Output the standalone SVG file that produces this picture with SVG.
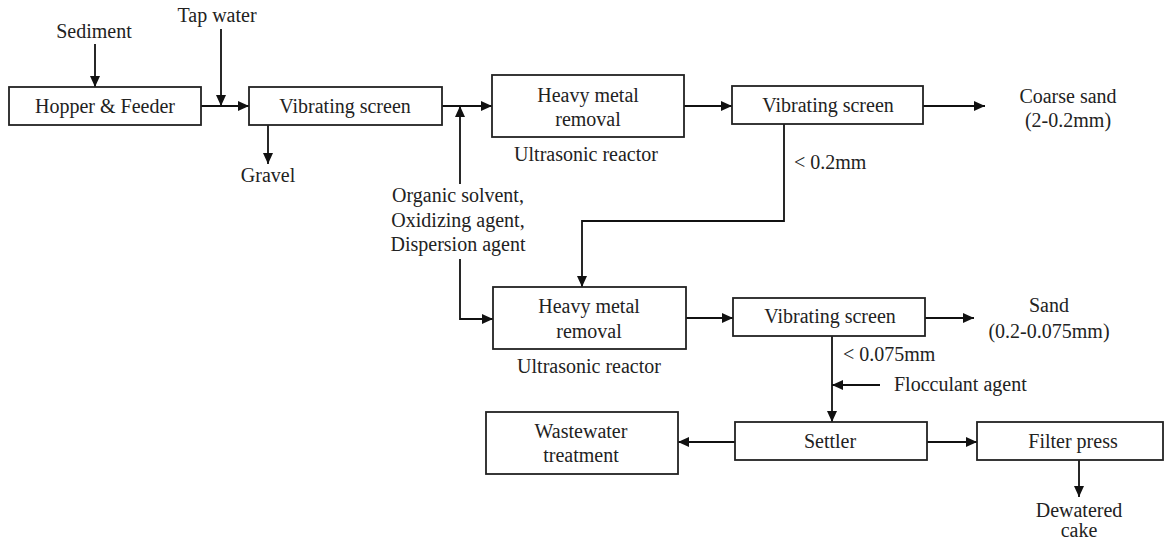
<svg xmlns="http://www.w3.org/2000/svg" width="1165" height="539" viewBox="0 0 1165 539">
<defs>
<marker id="ah" markerUnits="userSpaceOnUse" markerWidth="12" markerHeight="12" refX="11" refY="6" orient="auto">
<path d="M0,1 L11,6 L0,11 z" fill="#111"/>
</marker>
<style>
.box{fill:#fff;stroke:#222;stroke-width:1.8}
text{font-family:'Liberation Serif','Tinos','Times New Roman','DejaVu Serif',serif;font-size:20px;fill:#222}
.t{text-anchor:middle}
.ts{text-anchor:start}
.ca{fill:none;stroke:#111;stroke-width:1.8;marker-end:url(#ah)}
</style>
</defs>
<rect width="1165" height="539" fill="#fff"/>
<g id="connectors">
<path class="ca" d="M95,44 V87"/>
<path class="ca" d="M221,29 V106"/>
<path class="ca" d="M201,106 H249"/>
<path class="ca" d="M268,125 V164"/>
<path class="ca" d="M442,106 H492"/>
<path class="ca" d="M460,184 V106"/>
<path class="ca" d="M460,259 V319 H493"/>
<path class="ca" d="M684,106 H732"/>
<path class="ca" d="M923,106 H985"/>
<path class="ca" d="M784,123 V221 H582 V287"/>
<path class="ca" d="M686,318 H733"/>
<path class="ca" d="M925,318 H974"/>
<path class="ca" d="M832,336 V422"/>
<path class="ca" d="M880,385 H832"/>
<path class="ca" d="M735,442 H678"/>
<path class="ca" d="M927,442 H977"/>
<path class="ca" d="M1079,460 V497"/>
</g>
<g id="sediment"><text class="t" x="94" y="38">Sediment</text></g>
<g id="tapwater"><text class="t" x="217" y="22">Tap water</text></g>
<g id="hopper"><rect class="box" x="9" y="87" width="192" height="38"/><text class="t" x="105" y="113">Hopper &amp; Feeder</text></g>
<g id="vs1"><rect class="box" x="249" y="87" width="193" height="38"/><text class="t" x="345" y="113">Vibrating screen</text></g>
<g id="gravel"><text class="t" x="268" y="182">Gravel</text></g>
<g id="chem"><text class="t" x="458" y="202">Organic solvent,</text><text class="t" x="458" y="227">Oxidizing agent,</text><text class="t" x="458" y="251">Dispersion agent</text></g>
<g id="hm1"><rect class="box" x="492" y="75" width="192" height="62"/><text class="t" x="588" y="102">Heavy metal</text><text class="t" x="588" y="126">removal</text><text class="t" x="586" y="161">Ultrasonic reactor</text></g>
<g id="vs2"><rect class="box" x="732" y="86" width="191" height="38"/><text class="t" x="828" y="112">Vibrating screen</text></g>
<g id="lt02"><text class="ts" x="794" y="169">&lt; 0.2mm</text></g>
<g id="coarse"><text class="t" x="1068" y="103">Coarse sand</text><text class="t" x="1068" y="127">(2-0.2mm)</text></g>
<g id="hm2"><rect class="box" x="493" y="287" width="193" height="62"/><text class="t" x="589" y="313">Heavy metal</text><text class="t" x="589" y="338">removal</text><text class="t" x="589" y="373">Ultrasonic reactor</text></g>
<g id="vs3"><rect class="box" x="733" y="298" width="192" height="38"/><text class="t" x="830" y="323">Vibrating screen</text></g>
<g id="sand"><text class="t" x="1049" y="312">Sand</text><text class="t" x="1049" y="338">(0.2-0.075mm)</text></g>
<g id="lt0075"><text class="ts" x="843" y="361">&lt; 0.075mm</text></g>
<g id="floc"><text class="ts" x="894" y="391">Flocculant agent</text></g>
<g id="settler"><rect class="box" x="735" y="422" width="192" height="38"/><text class="t" x="830" y="448">Settler</text></g>
<g id="wastewater"><rect class="box" x="486" y="412" width="192" height="62"/><text class="t" x="581" y="438">Wastewater</text><text class="t" x="581" y="462">treatment</text></g>
<g id="filter"><rect class="box" x="977" y="422" width="186" height="38"/><text class="t" x="1073" y="448">Filter press</text></g>
<g id="cake"><text class="t" x="1079" y="517">Dewatered</text><text class="t" x="1079" y="537">cake</text></g>
</svg>
